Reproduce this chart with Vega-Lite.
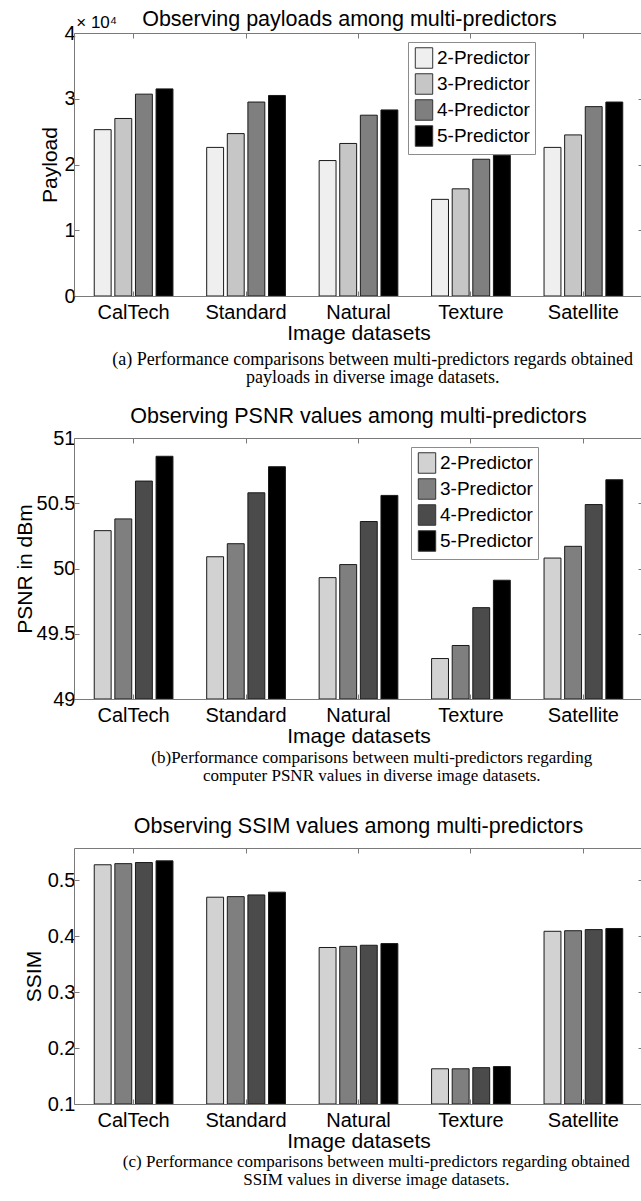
{
  "$schema": "https://vega.github.io/schema/vega-lite/v6.json",
  "padding": {"left": 14, "top": 8, "right": 0, "bottom": 5},
  "background": "white",
  "datasets": {
    "pay": [
      {"dataset": "CalTech", "predictor": "2-Predictor", "value": 25300},
      {"dataset": "CalTech", "predictor": "3-Predictor", "value": 27000},
      {"dataset": "CalTech", "predictor": "4-Predictor", "value": 30700},
      {"dataset": "CalTech", "predictor": "5-Predictor", "value": 31500},
      {"dataset": "Standard", "predictor": "2-Predictor", "value": 22600},
      {"dataset": "Standard", "predictor": "3-Predictor", "value": 24700},
      {"dataset": "Standard", "predictor": "4-Predictor", "value": 29500},
      {"dataset": "Standard", "predictor": "5-Predictor", "value": 30500},
      {"dataset": "Natural", "predictor": "2-Predictor", "value": 20600},
      {"dataset": "Natural", "predictor": "3-Predictor", "value": 23200},
      {"dataset": "Natural", "predictor": "4-Predictor", "value": 27500},
      {"dataset": "Natural", "predictor": "5-Predictor", "value": 28300},
      {"dataset": "Texture", "predictor": "2-Predictor", "value": 14700},
      {"dataset": "Texture", "predictor": "3-Predictor", "value": 16300},
      {"dataset": "Texture", "predictor": "4-Predictor", "value": 20800},
      {"dataset": "Texture", "predictor": "5-Predictor", "value": 21400},
      {"dataset": "Satellite", "predictor": "2-Predictor", "value": 22600},
      {"dataset": "Satellite", "predictor": "3-Predictor", "value": 24500},
      {"dataset": "Satellite", "predictor": "4-Predictor", "value": 28800},
      {"dataset": "Satellite", "predictor": "5-Predictor", "value": 29500}
    ],
    "psnr": [
      {"dataset": "CalTech", "predictor": "2-Predictor", "value": 50.29},
      {"dataset": "CalTech", "predictor": "3-Predictor", "value": 50.38},
      {"dataset": "CalTech", "predictor": "4-Predictor", "value": 50.67},
      {"dataset": "CalTech", "predictor": "5-Predictor", "value": 50.86},
      {"dataset": "Standard", "predictor": "2-Predictor", "value": 50.09},
      {"dataset": "Standard", "predictor": "3-Predictor", "value": 50.19},
      {"dataset": "Standard", "predictor": "4-Predictor", "value": 50.58},
      {"dataset": "Standard", "predictor": "5-Predictor", "value": 50.78},
      {"dataset": "Natural", "predictor": "2-Predictor", "value": 49.93},
      {"dataset": "Natural", "predictor": "3-Predictor", "value": 50.03},
      {"dataset": "Natural", "predictor": "4-Predictor", "value": 50.36},
      {"dataset": "Natural", "predictor": "5-Predictor", "value": 50.56},
      {"dataset": "Texture", "predictor": "2-Predictor", "value": 49.31},
      {"dataset": "Texture", "predictor": "3-Predictor", "value": 49.41},
      {"dataset": "Texture", "predictor": "4-Predictor", "value": 49.70},
      {"dataset": "Texture", "predictor": "5-Predictor", "value": 49.91},
      {"dataset": "Satellite", "predictor": "2-Predictor", "value": 50.08},
      {"dataset": "Satellite", "predictor": "3-Predictor", "value": 50.17},
      {"dataset": "Satellite", "predictor": "4-Predictor", "value": 50.49},
      {"dataset": "Satellite", "predictor": "5-Predictor", "value": 50.68}
    ],
    "ssim": [
      {"dataset": "CalTech", "predictor": "2-Predictor", "value": 0.528},
      {"dataset": "CalTech", "predictor": "3-Predictor", "value": 0.530},
      {"dataset": "CalTech", "predictor": "4-Predictor", "value": 0.532},
      {"dataset": "CalTech", "predictor": "5-Predictor", "value": 0.535},
      {"dataset": "Standard", "predictor": "2-Predictor", "value": 0.470},
      {"dataset": "Standard", "predictor": "3-Predictor", "value": 0.471},
      {"dataset": "Standard", "predictor": "4-Predictor", "value": 0.474},
      {"dataset": "Standard", "predictor": "5-Predictor", "value": 0.479},
      {"dataset": "Natural", "predictor": "2-Predictor", "value": 0.380},
      {"dataset": "Natural", "predictor": "3-Predictor", "value": 0.382},
      {"dataset": "Natural", "predictor": "4-Predictor", "value": 0.384},
      {"dataset": "Natural", "predictor": "5-Predictor", "value": 0.387},
      {"dataset": "Texture", "predictor": "2-Predictor", "value": 0.163},
      {"dataset": "Texture", "predictor": "3-Predictor", "value": 0.163},
      {"dataset": "Texture", "predictor": "4-Predictor", "value": 0.165},
      {"dataset": "Texture", "predictor": "5-Predictor", "value": 0.167},
      {"dataset": "Satellite", "predictor": "2-Predictor", "value": 0.409},
      {"dataset": "Satellite", "predictor": "3-Predictor", "value": 0.410},
      {"dataset": "Satellite", "predictor": "4-Predictor", "value": 0.412},
      {"dataset": "Satellite", "predictor": "5-Predictor", "value": 0.414}
    ],
    "note": [{"note": "× 10⁴"}]
  },
  "config": {
    "font": "Liberation Sans",
    "view": {"stroke": null},
    "axis": {
      "labelFont": "Liberation Sans", "labelFontSize": 20, "labelColor": "#000",
      "titleFont": "Liberation Sans", "titleFontSize": 21, "titleFontWeight": "normal", "titleColor": "#000",
      "domainColor": "#7a7a7a", "tickColor": "#7a7a7a", "grid": false, "tickSize": -5
    },
    "axisX": {"labelPadding": 11, "titlePadding": 0},
    "axisY": {"labelPadding": 4},
    "title": {"font": "Liberation Sans", "fontSize": 21.5, "fontWeight": "normal", "color": "#000", "anchor": "middle", "frame": "group"},
    "legend": {
      "orient": "none", "direction": "vertical", "title": null,
      "fillColor": "white", "strokeColor": "#8c8c8c", "padding": 5,
      "symbolType": "M-0.85,-1H0.85V1H-0.85Z", "symbolSize": 420,
      "symbolStrokeColor": "#333", "symbolStrokeWidth": 1, "symbolOpacity": 1,
      "labelFont": "Liberation Sans", "labelFontSize": 19, "labelColor": "#000",
      "rowPadding": 0, "labelOffset": 2, "labelLimit": 200
    }
  },
  "spacing": 18,
  "resolve": {"scale": {"color": "independent"}, "legend": {"color": "independent"}},
  "vconcat": [
    {
      "title": {"text": ["(a) Performance comparisons between multi-predictors regards obtained", "payloads in diverse image datasets."], "orient": "bottom", "anchor": "middle", "frame": "bounds", "dx": 31, "font": "Liberation Serif", "fontSize": 18, "lineHeight": 18, "offset": 8, "fontWeight": "normal"},
      "vconcat": [
        {
          "title": {"text": "Observing payloads among multi-predictors", "offset": -16, "dx": -9},
          "width": 569, "height": 263,
          "layer": [
            {
              "data": {"name": "pay"},
              "mark": {"type": "bar", "stroke": "#1a1a1a", "strokeWidth": 1, "clip": true},
              "encoding": {
                "x": {"field": "dataset", "type": "nominal", "sort": ["CalTech", "Standard", "Natural", "Texture", "Satellite"], "scale": {"paddingInner": 0.3, "paddingOuter": 0.18}, "axis": {"title": "Image datasets", "labelAngle": 0}},
                "xOffset": {"field": "predictor", "type": "nominal", "scale": {"paddingInner": 0.18}},
                "y": {"field": "value", "type": "quantitative", "scale": {"domain": [0, 40000], "nice": false, "zero": false}, "axis": {"title": "Payload", "values": [0, 10000, 20000, 30000, 40000], "labelExpr": "datum.value / 10000", "titlePadding": 3}},
                "y2": {"datum": 0},
                "color": {"field": "predictor", "type": "nominal", "scale": {"range": ["#efefef", "#c6c6c6", "#7f7f7f", "#000000"]}, "legend": {"legendX": 334, "legendY": 9}}
              }
            },
            {
              "data": {"name": "pay"},
              "mark": {"type": "bar", "opacity": 0, "clip": true},
              "encoding": {
                "x": {"field": "dataset", "type": "nominal", "sort": ["CalTech", "Standard", "Natural", "Texture", "Satellite"], "axis": {"orient": "top", "labels": false, "title": null}},
                "y": {"field": "value", "type": "quantitative", "axis": {"orient": "right", "labels": false, "title": null, "values": [0, 10000, 20000, 30000, 40000]}}
              }
            },
            {
              "data": {"name": "note"},
              "mark": {"type": "text", "align": "left", "baseline": "bottom", "dx": -18, "dy": -1, "fontSize": 17, "font": "Liberation Sans", "color": "#000"},
              "encoding": {
                "text": {"field": "note", "type": "nominal"},
                "x": {"datum": "CalTech", "bandPosition": 0, "axis": null},
                "y": {"datum": 40000, "axis": null}
              }
            }
          ],
          "resolve": {"axis": {"x": "independent", "y": "independent"}}
        }
      ]
    },
    {
      "spacing": 32,
      "vconcat": [
        {
          "title": {"text": ["(b)Performance comparisons between multi-predictors regarding", "computer PSNR values in diverse image datasets."], "orient": "bottom", "anchor": "middle", "frame": "bounds", "dx": 43, "font": "Liberation Serif", "fontSize": 17, "lineHeight": 18, "offset": 4, "fontWeight": "normal"},
          "vconcat": [
            {
              "title": {"text": "Observing PSNR values among multi-predictors", "offset": 1},
              "width": 569, "height": 261,
              "data": {"name": "psnr"},
              "layer": [
                {
                  "mark": {"type": "bar", "stroke": "#1a1a1a", "strokeWidth": 1, "clip": true},
                  "encoding": {
                    "x": {"field": "dataset", "type": "nominal", "sort": ["CalTech", "Standard", "Natural", "Texture", "Satellite"], "scale": {"paddingInner": 0.3, "paddingOuter": 0.18}, "axis": {"title": "Image datasets", "labelAngle": 0, "titlePadding": 0}},
                    "xOffset": {"field": "predictor", "type": "nominal", "scale": {"paddingInner": 0.18}},
                    "y": {"field": "value", "type": "quantitative", "scale": {"domain": [49, 51], "nice": false, "zero": false}, "axis": {"title": "PSNR in dBm", "values": [49, 49.5, 50, 50.5, 51], "format": "~g", "titlePadding": 1}},
                    "y2": {"datum": 49},
                    "color": {"field": "predictor", "type": "nominal", "scale": {"range": ["#d2d2d2", "#7f7f7f", "#4b4b4b", "#000000"]}, "legend": {"legendX": 337, "legendY": 9}}
                  }
                },
                {
                  "mark": {"type": "bar", "opacity": 0, "clip": true},
                  "encoding": {
                    "x": {"field": "dataset", "type": "nominal", "sort": ["CalTech", "Standard", "Natural", "Texture", "Satellite"], "axis": {"orient": "top", "labels": false, "title": null}},
                    "y": {"field": "value", "type": "quantitative", "axis": {"orient": "right", "labels": false, "title": null, "values": [49, 49.5, 50, 50.5, 51]}}
                  }
                }
              ],
              "resolve": {"axis": {"x": "independent", "y": "independent"}}
            }
          ]
        },
        {
          "title": {"text": ["(c) Performance comparisons between multi-predictors regarding obtained", "SSIM values in diverse image datasets."], "orient": "bottom", "anchor": "middle", "frame": "bounds", "dx": 43, "font": "Liberation Serif", "fontSize": 17, "lineHeight": 18, "offset": 3, "fontWeight": "normal"},
          "vconcat": [
            {
              "title": {"text": "Observing SSIM values among multi-predictors", "offset": 10},
              "width": 569, "height": 256,
              "data": {"name": "ssim"},
              "layer": [
                {
                  "mark": {"type": "bar", "stroke": "#1a1a1a", "strokeWidth": 1, "clip": true},
                  "encoding": {
                    "x": {"field": "dataset", "type": "nominal", "sort": ["CalTech", "Standard", "Natural", "Texture", "Satellite"], "scale": {"paddingInner": 0.3, "paddingOuter": 0.18}, "axis": {"title": "Image datasets", "labelAngle": 0, "titlePadding": 0}},
                    "xOffset": {"field": "predictor", "type": "nominal", "scale": {"paddingInner": 0.18}},
                    "y": {"field": "value", "type": "quantitative", "scale": {"domain": [0.1, 0.558], "nice": false, "zero": false}, "axis": {"title": "SSIM", "values": [0.1, 0.2, 0.3, 0.4, 0.5], "format": "~g", "titlePadding": 3}},
                    "y2": {"datum": 0.1},
                    "color": {"field": "predictor", "type": "nominal", "scale": {"range": ["#d2d2d2", "#7f7f7f", "#4b4b4b", "#000000"]}, "legend": {"legendX": 332, "legendY": 6}}
                  }
                },
                {
                  "mark": {"type": "bar", "opacity": 0, "clip": true},
                  "encoding": {
                    "x": {"field": "dataset", "type": "nominal", "sort": ["CalTech", "Standard", "Natural", "Texture", "Satellite"], "axis": {"orient": "top", "labels": false, "title": null}},
                    "y": {"field": "value", "type": "quantitative", "axis": {"orient": "right", "labels": false, "title": null, "values": [0.1, 0.2, 0.3, 0.4, 0.5]}}
                  }
                }
              ],
              "resolve": {"axis": {"x": "independent", "y": "independent"}}
            }
          ]
        }
      ]
    }
  ]
}
